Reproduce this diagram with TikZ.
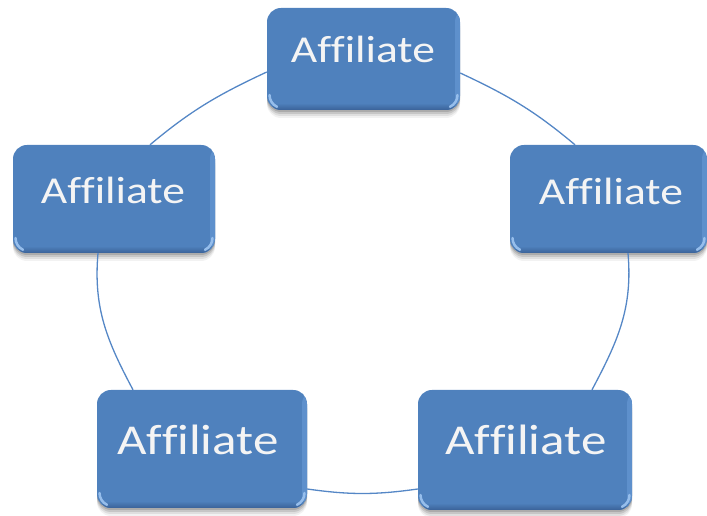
\documentclass[tikz,border=0pt]{standalone}
\usepackage{fontspec}
\setmainfont{Carlito}[Ligatures=NoCommon, FakeStretch=1.2]
\usetikzlibrary{shadows}
\definecolor{boxblue}{RGB}{79,129,189}
\definecolor{boxdark}{RGB}{58,98,152}
\definecolor{boxedge}{RGB}{94,144,204}
\definecolor{boxhl}{RGB}{150,190,236}
\definecolor{ringblue}{RGB}{85,135,198}
\definecolor{txtwhite}{RGB}{244,244,244}
\tikzset{
  affbox/.style={rounded corners=14pt, fill=boxblue, draw=none,
    drop shadow={shadow xshift=0pt, shadow yshift=-2pt, opacity=.14, fill=black},
    drop shadow={shadow xshift=0pt, shadow yshift=-4pt, opacity=.11, fill=black},
    drop shadow={shadow xshift=0pt, shadow yshift=-6pt, opacity=.08, fill=black},
    drop shadow={shadow xshift=0pt, shadow yshift=-8pt, opacity=.05, fill=black},
    path picture={
      \fill[boxedge] ([xshift=-5pt]path picture bounding box.north east) rectangle (path picture bounding box.south east);
      \shade[top color=boxblue, bottom color=boxdark] ([yshift=7pt]path picture bounding box.south west) rectangle (path picture bounding box.south east);
      \draw[boxhl, line width=2.5pt, line cap=round] ([xshift=2.5pt,yshift=15pt]path picture bounding box.south west) arc[start angle=180, end angle=245, radius=13pt];
      \draw[boxhl, line width=2.5pt, line cap=round] ([xshift=-2.5pt,yshift=15pt]path picture bounding box.south east) arc[start angle=0, end angle=-65, radius=13pt];
    }},
  afftext/.style={text=txtwhite, anchor=base, inner sep=0pt, font=\fontsize{38}{40}\selectfont},
  afftextbig/.style={afftext, font=\fontsize{42.5}{44}\selectfont},
  ring/.style={ringblue, line width=1.3pt}
}
\begin{document}
\begin{tikzpicture}[x=1pt,y=1pt]
\useasboundingbox (0,0) rectangle (707,516);
% boxes
\node[affbox, minimum width=193pt, minimum height=102pt] (top) at (363.5,457) {};
\node[affbox, minimum width=202pt, minimum height=108pt] (left) at (114,317) {};
\node[affbox, minimum width=197pt, minimum height=108pt] (right) at (608.5,317) {};
\node[affbox, minimum width=210pt, minimum height=118pt] (bl) at (202,67) {};
\node[affbox, minimum width=214pt, minimum height=120pt] (br) at (525,66) {};
% texts
\node[afftext] (t1) at (363,453) {Affiliate};
\node[afftext] (t2) at (113,312) {Affiliate};
\node[afftext] (t3) at (611,311) {Affiliate};
\node[afftextbig] (t4) at (198,61) {Affiliate};
\node[afftextbig] (t5) at (526,61) {Affiliate};
% ring connectors
\draw[ring] ([yshift=-13pt]top.west) to[out=205,in=40] ([xshift=36pt]left.north);
\draw[ring] ([xshift=-16pt]left.south) to[out=265,in=118] ([xshift=-69pt]bl.north);
\draw[ring] ([yshift=-40pt]bl.east) to[out=-8,in=188] ([yshift=-39pt]br.west);
\draw[ring] ([xshift=67pt]br.north) to[out=62,in=275] ([xshift=19.5pt]right.south);
\draw[ring] ([xshift=-33.5pt]right.north) to[out=140,in=-25] ([yshift=-14pt]top.east);
\end{tikzpicture}
\end{document}
